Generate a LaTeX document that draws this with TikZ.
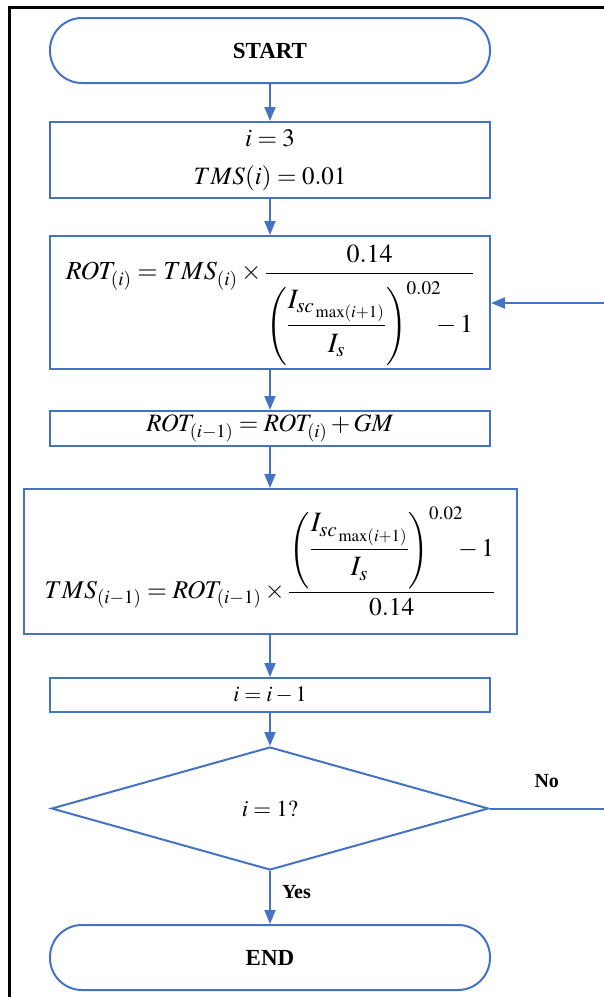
\documentclass[tikz,border=0pt]{standalone}
\usepackage{amsmath}
\usepackage{mathptmx}
\usepackage[no-math]{fontspec}
\setmainfont{Liberation Serif}
\usetikzlibrary{arrows.meta,shapes.geometric}
\definecolor{flowblue}{HTML}{4472C4}
\newcommand{\iratio}{\left(\mbox{\fontsize{28}{34}\selectfont$\dfrac{I_{sc_{\,\max(i+1)}}}{I_s}$}\right)^{0.02}\mkern-6mu-1}

\begin{document}
\begin{tikzpicture}[x=1pt,y=-1pt,
    box/.style={draw=flowblue, line width=2pt, minimum width=440pt, inner sep=0pt},
    term/.style={box, rounded corners=32pt, minimum height=65pt, font=\fontsize{23}{28}\selectfont\bfseries},
    answer/.style={font=\fontsize{20}{24}\selectfont\bfseries, inner sep=2pt},
    line/.style={draw=flowblue, line width=2pt},
    flow/.style={line, -{Triangle[width=11pt,length=14pt]}}]
    \useasboundingbox (0,0) rectangle (604,997);
    \draw [black, line width=3pt] (9,997) -- (9,7.5) -- (604,7.5);

    \node [term] (start) at (270,50.5) {START};
    \node [box, minimum height=76pt, align=center, font=\fontsize{25}{38}\selectfont] (init) at (270,160)
        {$i=3$\\$TMS(i)=0.01$};
    \node [box, minimum height=133pt, font=\fontsize{26}{30}\selectfont] (rot) at (270,302.5)
        {$ROT_{(i)}=TMS_{(i)}\times\dfrac{0.14}{\raisebox{-5pt}[\height][\depth]{$\iratio$}}$};
    \node [box, minimum height=35pt, font=\fontsize{25}{30}\selectfont] (gm) at (270,428.5)
        {$ROT_{(i-1)}=ROT_{(i)}+GM$\vphantom{$I$}};
    \node [box, minimum width=493pt, minimum height=145pt, font=\fontsize{25.5}{30}\selectfont] (tms) at (270,561.5)
        {$TMS_{(i-1)}=ROT_{(i-1)}\times\dfrac{\iratio}{0.14}$};
    \node [box, minimum height=34pt, font=\fontsize{22}{26}\selectfont] (dec) at (270,695) {$i=i-1$};
    \node [line, diamond, minimum width=437pt, minimum height=123pt, inner sep=0pt,
        font=\fontsize{23}{28}\selectfont] (check) at (270,808.5) {$i=1?$};
    \node [term] (end) at (270,957.5) {END};

    \coordinate (noend) at (604,808.5);
    \coordinate (loopin) at (604,303);

    \draw [flow] (start) -- (init);
    \draw [flow] (init) -- (rot);
    \draw [flow] (rot) -- (gm);
    \draw [flow] (gm) -- (tms);
    \draw [flow] (tms) -- (dec);
    \draw [flow] (dec) -- (check);
    \draw [flow] (check) -- node [answer, right=9pt, pos=0.4] {Yes} (end);
    \draw [line] (check.east) -- node [answer, above=18pt] {No} (noend);
    \draw [flow] (loopin) -- (rot.east |- loopin);
\end{tikzpicture}
\end{document}
